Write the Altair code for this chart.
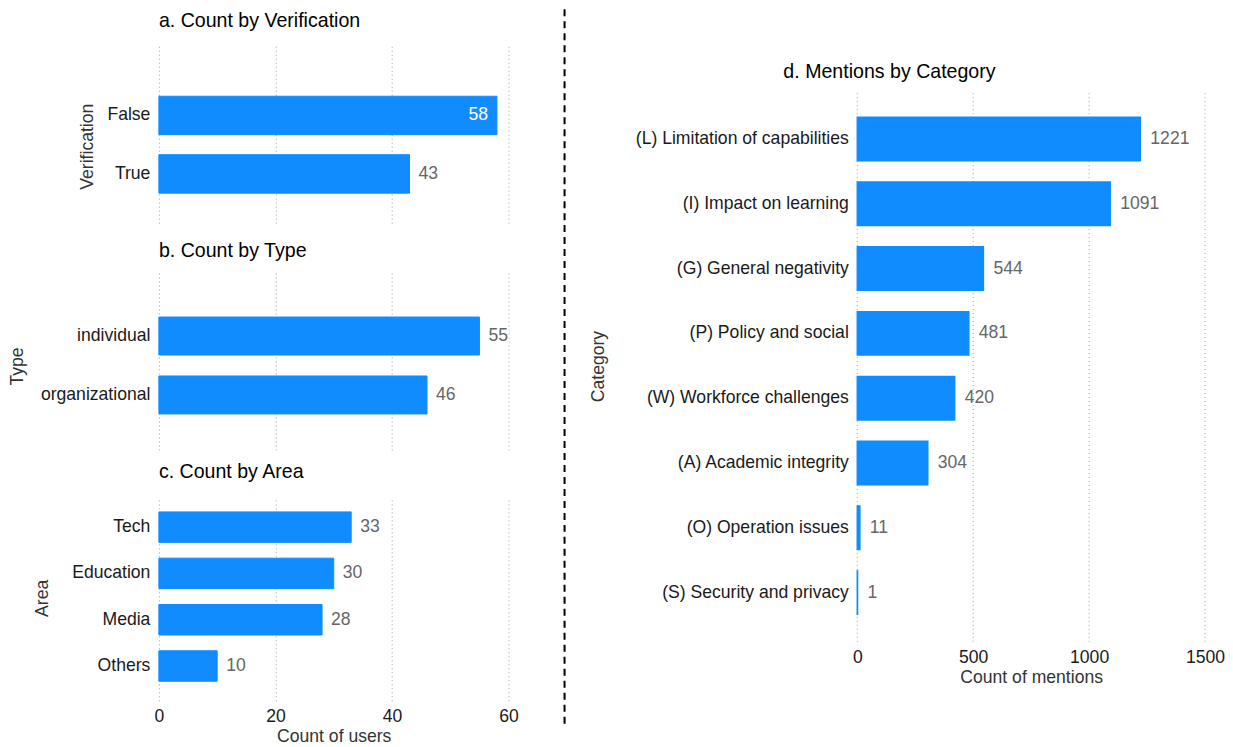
import altair as alt
import pandas as pd

# ---- data ----
ver_cats = ["False", "True"]
ver_vals = [58, 43]
type_cats = ["individual", "organizational"]
type_vals = [55, 46]
area_cats = ["Tech", "Education", "Media", "Others"]
area_vals = [33, 30, 28, 10]
cat_labels = [
    "(L) Limitation of capabilities",
    "(I) Impact on learning",
    "(G) General negativity",
    "(P) Policy and social",
    "(W) Workforce challenges",
    "(A) Academic integrity",
    "(O) Operation issues",
    "(S) Security and privacy",
]
cat_vals = [1221, 1091, 544, 481, 420, 304, 11, 1]
user_ticks = [0, 20, 40, 60]
mention_ticks = [0, 500, 1000, 1500]

FONT = "Liberation Sans"
BLUE = "#118CFF"
GRID = "#a0a0a0"
VAL = "#666666"
LAB = "#1a1a1a"
TIT = "#333333"
FS = 17.6
TFS = 19.6


def left_panel(cats, vals, title, ytitle, height, pin, pout, align,
               title_x, title_y, title_offset, show_x):
    df = pd.DataFrame({"cat": cats, "value": vals})
    xaxis_kw = dict(values=user_ticks, grid=True, gridDash=[1, 3], gridColor=GRID,
                    gridWidth=1, domain=False, ticks=False)
    if show_x:
        xaxis_kw.update(labels=True, title="Count of users", labelFontSize=FS,
                        labelColor=LAB, labelFont=FONT, labelPadding=7,
                        titleFontSize=FS, titleFont=FONT, titleColor=TIT,
                        titleFontWeight="normal", titlePadding=2, labelFlush=False,
                        format="d")
    else:
        xaxis_kw.update(labels=False, title="")
    x = alt.X("value:Q", scale=alt.Scale(domain=[0, 60], nice=False),
              axis=alt.Axis(**xaxis_kw))
    y = alt.Y("cat:N", sort=cats,
              scale=alt.Scale(paddingInner=pin, paddingOuter=pout, align=align),
              axis=alt.Axis(title=ytitle, titleX=title_x, titleY=title_y,
                            titleBaseline="middle", titleAlign="center",
                            titleFontSize=FS, titleFont=FONT, titleColor=TIT,
                            titleFontWeight="normal", labelFontSize=FS,
                            labelFont=FONT, labelColor=LAB, labelPadding=9,
                            labelLimit=400, ticks=False, domain=False, grid=False))
    base = alt.Chart(df)
    bars = base.mark_bar(color=BLUE, stroke=BLUE, strokeWidth=1).encode(x=x, y=y)
    out = base.transform_filter("datum.value < 57").mark_text(
        align="left", baseline="middle", dx=9, fontSize=FS, font=FONT, color=VAL
    ).encode(x=x, y=y, text="value:Q")
    ins = base.transform_filter("datum.value >= 57").mark_text(
        align="right", baseline="middle", dx=-9, fontSize=FS, font=FONT, color="white"
    ).encode(x=x, y=y, text="value:Q")
    return alt.layer(bars, out, ins).properties(
        width=350, height=height,
        title=alt.TitleParams(text=title, anchor="start", frame="group", fontSize=TFS,
                              font=FONT, fontWeight="normal", color="black",
                              offset=title_offset),
    )


pa = left_panel(ver_cats, ver_vals, "a. Count by Verification", "Verification",
                177, 0.342, 0.684, 0.625, -71, 100, 15, False)
pb = left_panel(type_cats, type_vals, "b. Count by Type", "Type",
                180, 0.356, 0.7035, 0.566, -141, 96, 8, False)
pc = left_panel(area_cats, area_vals, "c. Count by Area", "Area",
                204, 0.342, 0.3725, 0.435, -116, 101, 14, True)

left = alt.vconcat(pa, pb, pc, spacing=47, bounds="flush")

# separator (dashed vertical line between the two halves)
sep = alt.Chart(pd.DataFrame({"k": [0]})).mark_rule(
    color="black", strokeWidth=2, strokeDash=[7, 5]
).encode(x=alt.value(396), y=alt.value(-37), y2=alt.value(680)).properties(width=679, height=10)

# right panel
dfd = pd.DataFrame({"cat": cat_labels, "value": cat_vals})
gdf = pd.DataFrame({"tick": mention_ticks})
xd_scale = alt.Scale(domain=[0, 1500], nice=False)
xd_axis = alt.Axis(values=mention_ticks, grid=False, domain=False, ticks=False,
                   title="Count of mentions", labelFontSize=FS, labelColor=LAB,
                   labelFont=FONT, labelPadding=6, titleFontSize=FS, titleFont=FONT,
                   titleColor=TIT, titleFontWeight="normal", titlePadding=2,
                   labelFlush=False, format="d")
xd = alt.X("value:Q", scale=xd_scale, axis=xd_axis)
yd = alt.Y("cat:N", sort=cat_labels,
           scale=alt.Scale(paddingInner=0.33, paddingOuter=0.7675, align=0.7136),
           axis=alt.Axis(title="Category", titleX=-259, titleY=320,
                         titleBaseline="middle", titleAlign="center",
                         titleFontSize=FS, titleFont=FONT, titleColor=TIT,
                         titleFontWeight="normal", labelFontSize=FS, labelFont=FONT,
                         labelColor=LAB, labelPadding=9, labelLimit=400, ticks=False,
                         domain=False, grid=False))
grid_d = alt.Chart(gdf).mark_rule(color=GRID, strokeWidth=1, strokeDash=[1, 3]).encode(
    x=alt.X("tick:Q", scale=xd_scale, axis=xd_axis),
    y=alt.value(47), y2=alt.value(597))
bars_d = alt.Chart(dfd).mark_bar(color=BLUE, stroke=BLUE, strokeWidth=1.5).encode(x=xd, y=yd)
text_d = alt.Chart(dfd).mark_text(align="left", baseline="middle", dx=10, fontSize=FS,
                                  font=FONT, color=VAL).encode(x=xd, y=yd, text="value:Q")
pd_chart = alt.layer(grid_d, bars_d, text_d).properties(
    width=348, height=597,
    title=alt.TitleParams(text="d. Mentions by Category", anchor="start", frame="group",
                          fontSize=TFS, font=FONT, fontWeight="normal", color="black",
                          offset=0, dx=-74, dy=36),
)

chart = alt.hconcat(left, sep, pd_chart, spacing=10, bounds="flush").properties(
    padding={"left": 1, "top": 0, "right": 0, "bottom": 0}, background="white"
).configure_view(strokeWidth=0)

chart.save("out.html", embed_options={"renderer": "svg", "actions": False})
